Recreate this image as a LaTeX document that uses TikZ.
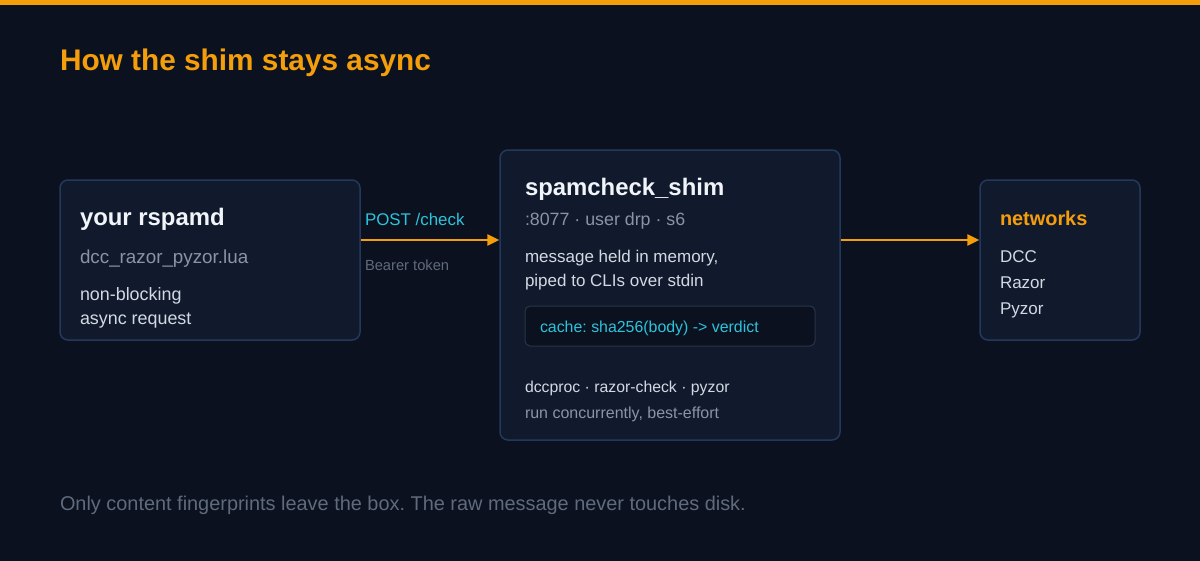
\documentclass[tikz,border=0pt]{standalone}
\usepackage{fontspec}
\setmainfont{Liberation Sans}
\usetikzlibrary{arrows.meta,calc}
\frenchspacing
\definecolor{bg}{HTML}{0B111E}
\definecolor{boxfill}{HTML}{111A2D}
\definecolor{boxline}{HTML}{23395C}
\definecolor{innerfill}{HTML}{0B111E}
\definecolor{innerline}{HTML}{2A3548}
\definecolor{accent}{HTML}{F59E0B}
\definecolor{cyantxt}{HTML}{2CC3DD}
\definecolor{titletxt}{HTML}{F1F5F9}
\definecolor{subtxt}{HTML}{8A94A6}
\definecolor{bodytxt}{HTML}{D3D9E2}
\definecolor{dimtxt}{HTML}{5F6B7D}
\tikzset{
  card/.style={draw=boxline, line width=1.5pt, fill=boxfill, rounded corners=8pt, inner sep=0pt},
  innercard/.style={draw=innerline, line width=1pt, fill=innerfill, rounded corners=5pt, inner sep=0pt},
  lbl/.style={anchor=base west, inner sep=0pt, outer sep=0pt},
  cardtitle/.style={lbl, text=titletxt, font=\fontsize{23.9}{28}\selectfont\bfseries},
  subline/.style={lbl, text=subtxt, font=\fontsize{17.8}{21}\selectfont},
  bodyline/.style={lbl, text=bodytxt, font=\fontsize{17}{21}\selectfont},
  flow/.style={draw=accent, line width=2.5pt, -{Triangle[length=12pt,width=11pt]}},
}
\begin{document}
\begin{tikzpicture}[x=1pt,y=-1pt]
\useasboundingbox (0,0) rectangle (1200,560);
\fill[bg] (-3,-3) rectangle (1203,563);
\fill[accent] (-3,-3) rectangle (1203,5);
\node[lbl, text=accent, font=\fontsize{29.8}{34}\selectfont\bfseries] (title) at (60,70) {How the shim stays async};

% boxes
\node[card, minimum width=300pt, minimum height=160pt] (rspamd) at (210,260) {};
\node[card, minimum width=340pt, minimum height=290pt] (shim) at (670,295) {};
\node[card, minimum width=160pt, minimum height=160pt] (nets) at (1060,260) {};

% rspamd content
\node[cardtitle] (t1) at (80,225) {your rspamd};
\node[subline, font=\fontsize{18.8}{22}\selectfont] (s1) at (80,263) {dcc\_razor\_pyzor.lua};
\node[bodyline, font=\fontsize{17.9}{21}\selectfont] (b1a) at (80,300) {non-blocking};
\node[bodyline, font=\fontsize{17.9}{21}\selectfont] (b1b) at (80,324) {async request};

% shim content
\node[cardtitle] (t2) at (525,195) {spamcheck\_shim};
\node[subline] (s2) at (525,225) {:8077 · user drp · s6};
\node[bodyline] (b2a) at (525,262) {message held in memory,};
\node[bodyline] (b2b) at (525,286) {piped to CLIs over stdin};
\node[innercard, minimum width=290pt, minimum height=40pt] (cache) at (670,326) {};
\node[lbl, text=cyantxt, font=\fontsize{15.9}{19}\selectfont] (cachetxt) at (540,332) {cache: sha256(body) -> verdict};
\node[bodyline, font=\fontsize{15.8}{19}\selectfont] (b2c) at (525,392) {dccproc · razor-check · pyzor};
\node[subline, font=\fontsize{16}{19}\selectfont] (b2d) at (525,418) {run concurrently, best-effort};

% networks content
\node[lbl, text=accent, font=\fontsize{19.9}{23}\selectfont\bfseries] (t3) at (1000,225) {networks};
\node[bodyline] (n1) at (1000,262) {DCC};
\node[bodyline] (n2) at (1000,288) {Razor};
\node[bodyline] (n3) at (1000,314) {Pyzor};

% connectors
\draw[flow] ([yshift=20pt]rspamd.east) -- ([yshift=20pt]rspamd.east -| shim.west);
\draw[flow] ([yshift=20pt]nets.west -| shim.east) -- ([yshift=20pt]nets.west);
\node[lbl, text=cyantxt, font=\fontsize{16.9}{20}\selectfont] (post) at (365,225) {POST /check};
\node[lbl, text=dimtxt, font=\fontsize{14.7}{17}\selectfont] (bearer) at (365,270) {Bearer token};

% footer
\node[lbl, text=dimtxt, font=\fontsize{19.9}{23}\selectfont] (foot) at (60,510) {Only content fingerprints leave the box. The raw message never touches disk.};
\end{tikzpicture}
\end{document}
